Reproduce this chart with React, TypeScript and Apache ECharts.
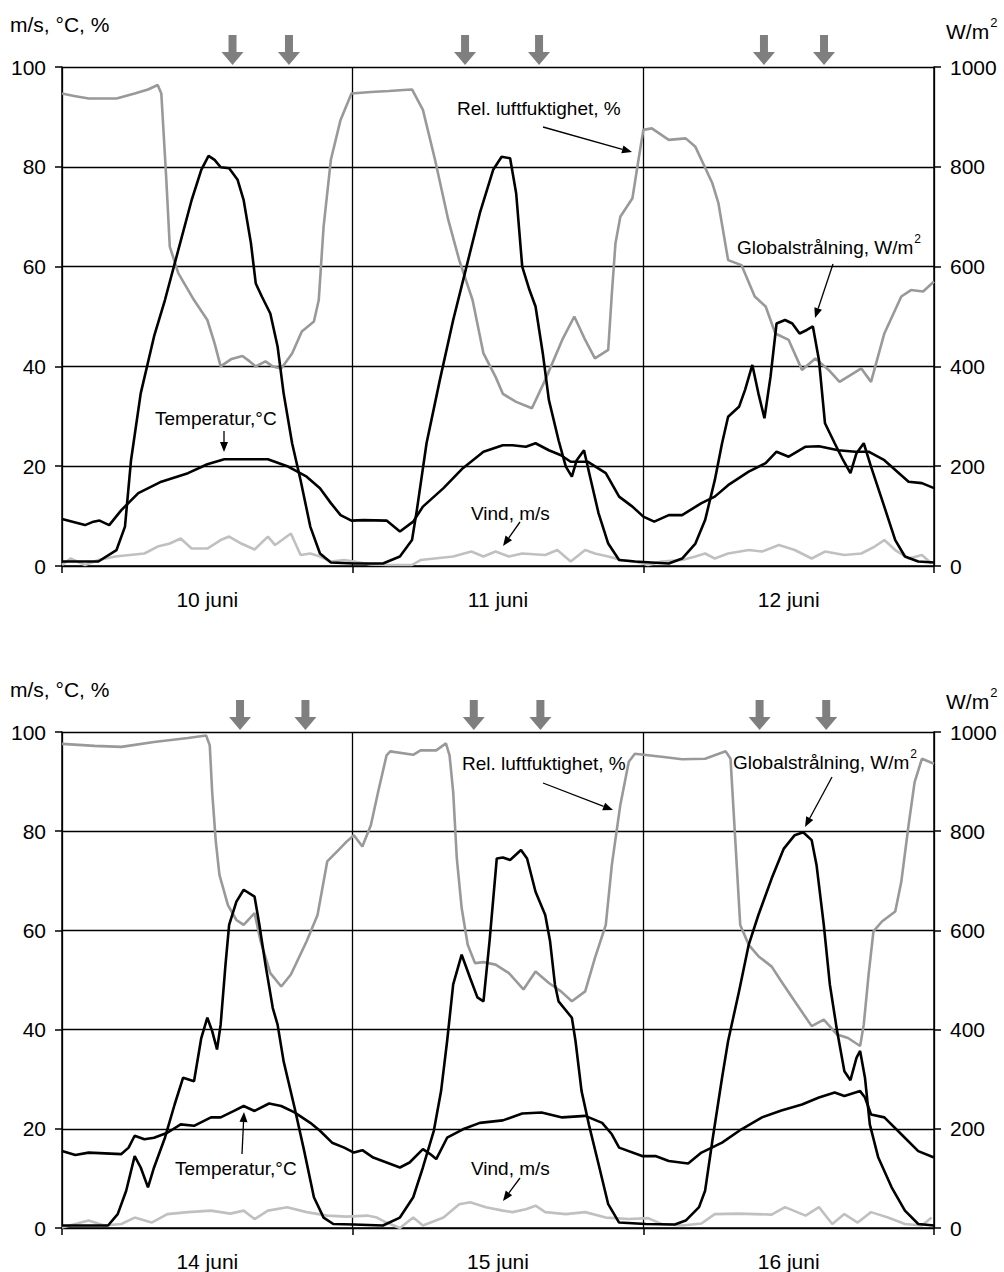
import React, { useEffect, useRef } from "react";
import * as echarts from "echarts";

const FONT = "'Liberation Sans', Arial, Helvetica, sans-serif";

const daysTop = ["10 juni", "11 juni", "12 juni"];
const daysBottom = ["14 juni", "15 juni", "16 juni"];

// arrow marker times (hours from start of panel)
const markersTop = [14.08, 18.74, 33.28, 39.39, 57.96, 62.92];
const markersBottom = [14.7, 20.1, 34.0, 39.5, 57.6, 63.1];

// ---- top panel (10-12 juni) ----
const humTop: [number, number][] = [
  [0, 94.7], [1, 94.2], [2.2, 93.7], [4.5, 93.7], [6, 94.7], [7.1, 95.5], [7.9, 96.4], [8.2, 94.7], [8.6, 78], [8.9, 64],
  [9.6, 58.7], [10.9, 53.3], [12, 49.3], [12.6, 44.6], [13.1, 40], [14, 41.5], [14.9, 42.1], [15.5, 41], [16, 40], [16.8, 41],
  [17.4, 40], [18.1, 39.6], [19, 42.6], [19.8, 47], [20.8, 49], [21.2, 53.3], [21.6, 68], [22.2, 81.4], [23, 89.4], [23.9, 94.7],
  [25.5, 95], [27, 95.2], [28.2, 95.4], [28.9, 95.5], [29.8, 91.4], [30.8, 81.4], [31.9, 69.3], [32.8, 61.3], [33.9, 53.3], [34.8, 42.6],
  [35.8, 37.9], [36.4, 34.5], [37.5, 32.9], [38.8, 31.6], [39.9, 37.3], [41.3, 45.3], [42.3, 50], [43.2, 45.3], [44, 41.6], [45.1, 43.3],
  [45.4, 54.6], [45.7, 64.7], [46.1, 70], [47.1, 73.7], [47.6, 81.4], [48, 87.4], [48.7, 87.7], [50.1, 85.4], [51.5, 85.7], [52.3, 84],
  [53.7, 76.7], [54.2, 72.7], [55, 61.3], [56.1, 60.3], [57.2, 54], [58.1, 52], [58.9, 46.6], [60, 45.3], [61.1, 39.3], [62.2, 41.6],
  [63.3, 39.3], [64.2, 36.9], [66, 39.6], [66.8, 36.9], [67.9, 46.6], [69.3, 54], [70.1, 55.3], [71.1, 55], [72, 57],
];
const radTop: [number, number][] = [
  [0, 9], [3, 9], [4.5, 32], [5.2, 79], [5.7, 212], [6.5, 346], [7.6, 460], [8.5, 533], [9.6, 633], [10.7, 733],
  [11.5, 794], [12.1, 822], [12.6, 814], [13.1, 799], [13.8, 797], [14.5, 774], [15, 733], [15.6, 647], [16, 566], [16.5, 540],
  [17.2, 506], [17.8, 440], [18.3, 346], [19, 246], [19.7, 172], [20.5, 79], [21.3, 25], [22.2, 7], [24.1, 5], [26.5, 5],
  [27.9, 19], [28.9, 52], [29.3, 112], [30.1, 246], [31.2, 373], [32.3, 493], [33.4, 600], [34.5, 707], [35.6, 794], [36.3, 820],
  [37, 817], [37.5, 747], [38, 600], [38.6, 553], [39.1, 520], [39.7, 426], [40.2, 333], [41, 252], [41.6, 199], [42.1, 179],
  [42.5, 212], [43.1, 232], [43.6, 179], [44.3, 106], [45.1, 45], [46, 12], [47.3, 9], [50.1, 5], [51.2, 15], [52.3, 45],
  [53.1, 92], [53.9, 172], [54.5, 246], [55, 299], [55.9, 319], [56.4, 353], [57, 403], [57.5, 346], [58, 296], [58.5, 379],
  [59, 486], [59.7, 493], [60.3, 486], [60.9, 466], [61.5, 473], [62, 480], [62.5, 413], [63, 286], [63.8, 246], [64.5, 212],
  [65.1, 186], [65.6, 226], [66.2, 246], [66.8, 199], [67.8, 126], [68.8, 52], [69.6, 19], [70.7, 9], [72, 7],
];
const tempTop: [number, number][] = [
  [0, 9.4], [1.9, 8.2], [2.5, 8.8], [3.1, 9.1], [3.9, 8.2], [4.9, 11.2], [6.3, 14.6], [8.2, 16.9], [10.4, 18.6], [12, 20.4],
  [13.4, 21.4], [17, 21.4], [18.6, 20], [20.2, 17.9], [21.3, 15.6], [22.2, 12.6], [23, 10.2], [23.9, 9.1], [24.9, 9.2], [26.8, 9.1],
  [27.9, 6.9], [29, 8.9], [29.8, 11.9], [31.5, 15.6], [33.1, 19.6], [34.8, 22.9], [36.4, 24.2], [37.2, 24.2], [38.3, 23.9], [39.1, 24.6],
  [40.2, 23.2], [41.2, 22.2], [42, 20.9], [43.4, 20.9], [44.9, 18.6], [46, 13.9], [47.1, 11.9], [48, 9.9], [48.9, 8.9], [50.1, 10.2],
  [51.2, 10.2], [52.8, 12.6], [53.9, 13.9], [55, 16.2], [56.7, 18.9], [58.1, 20.6], [59, 22.9], [60, 21.9], [61.4, 23.9], [62.5, 24],
  [64.1, 23.2], [65.5, 22.9], [66.6, 22.9], [67.9, 21.2], [69.9, 16.9], [71, 16.6], [72, 15.6],
];
const windTop: [number, number][] = [
  [0, 0.2], [0.7, 1.5], [1.9, 0.2], [3, 1.2], [4.4, 1.9], [6.8, 2.5], [7.9, 3.9], [8.9, 4.5], [9.8, 5.5], [10.7, 3.5],
  [12, 3.5], [13.1, 5.2], [13.8, 5.9], [14.8, 4.5], [15.9, 3.3], [17, 5.9], [17.6, 4.2], [18.9, 6.5], [19.7, 2.2], [20.5, 2.5],
  [21.3, 1.9], [22.2, 0.9], [23.3, 1.2], [24.1, 0.9], [25.5, 0.3], [27, 0.2], [28.9, 0.2], [29.6, 1.2], [32.3, 1.9], [33.8, 2.9],
  [34.8, 1.9], [35.8, 2.9], [36.9, 1.9], [38, 2.5], [39.9, 2.2], [40.9, 3.2], [42, 0.9], [43.2, 3.2], [44, 2.5], [45.1, 1.9],
  [46.2, 1.2], [47.3, 0.9], [48.4, 0.2], [49.5, 0.9], [51.2, 1.2], [52.3, 1.9], [53.1, 2.5], [53.9, 1.5], [55, 2.5], [56.7, 3.2],
  [57.8, 2.9], [59.2, 4.2], [60.5, 3.2], [61.9, 1.5], [63, 2.9], [64.6, 2.2], [66, 2.5], [67.1, 3.9], [67.9, 5.2], [68.8, 3.2],
  [69.9, 1.5], [71, 2.2], [71.8, 0.5],
];

// ---- bottom panel (14-16 juni) ----
const humBottom: [number, number][] = [
  [0, 97.6], [2.7, 97.2], [4.9, 97], [7.6, 98], [10.4, 98.8], [11.9, 99.3], [12.2, 97.3], [12.4, 87.9], [12.7, 77.9], [13, 71.2],
  [13.7, 65.1], [14.4, 62.1], [15, 61.1], [15.9, 63.5], [16.4, 57.8], [17.2, 51.4], [18.1, 48.7], [18.9, 51.1], [20.2, 57.8], [21.1, 63.1],
  [21.9, 73.9], [22.7, 75.9], [23.5, 77.9], [24.1, 79.2], [24.8, 76.9], [25.5, 81.2], [26.1, 87.9], [26.8, 95.3], [27.1, 96.1], [29, 95.4],
  [29.6, 96.3], [30.9, 96.3], [31.7, 97.7], [32, 95.3], [32.3, 87.9], [32.6, 74.5], [33, 64.5], [33.5, 57.1], [34.1, 53.4], [34.8, 53.6],
  [35.8, 53.1], [36.9, 51.4], [38.1, 48.1], [39.1, 51.7], [40.2, 49.4], [41.2, 47.7], [42.1, 45.7], [43.2, 47.7], [44, 54.4], [44.9, 61.1],
  [45.4, 73.2], [46.1, 85.3], [46.8, 94], [47.3, 95.6], [49.5, 95], [51.2, 94.5], [53.1, 94.6], [54.8, 96.1], [55.2, 94.6], [55.6, 77.9],
  [56, 61.1], [56.7, 57.1], [57.5, 54.8], [58.6, 52.7], [59.4, 49.7], [60.5, 45.7], [61.9, 40.7], [62.9, 42], [64, 39], [64.9, 38.3],
  [65.9, 36.7], [66.2, 41], [66.6, 51.1], [67, 59.8], [67.7, 61.8], [68.8, 63.8], [69.3, 69.8], [69.9, 81.2], [70.4, 89.9], [71, 94.6],
  [72, 93.6],
];
const radBottom: [number, number][] = [
  [0, 5], [3.8, 5], [4.6, 28], [5.3, 75], [6, 145], [6.5, 122], [7.1, 82], [7.6, 122], [8.5, 182], [9.3, 249],
  [10, 303], [10.9, 296], [11.5, 383], [12, 424], [12.4, 397], [12.8, 360], [13.1, 410], [13.5, 531], [13.8, 611], [14.4, 658],
  [15, 682], [15.9, 668], [16.3, 611], [16.8, 531], [17.4, 444], [17.8, 410], [18.3, 336], [19.2, 243], [20, 155], [20.8, 62],
  [21.6, 21], [22.4, 8], [24.1, 7], [26.5, 5], [27.9, 21], [29, 62], [29.8, 122], [30.7, 196], [31.3, 276], [31.8, 377],
  [32.3, 491], [33, 551], [33.7, 504], [34.3, 465], [34.8, 457], [35.3, 578], [35.9, 745], [36.4, 747], [37, 742], [37.9, 762],
  [38.4, 745], [39.1, 678], [39.9, 631], [40.3, 578], [40.7, 491], [41, 457], [42.1, 424], [42.4, 377], [42.9, 276], [43.5, 209],
  [44.3, 129], [45.1, 48], [46, 11], [48.2, 8], [50.6, 7], [51.5, 15], [52.6, 42], [53.1, 75], [53.7, 176], [54.5, 303],
  [55, 377], [55.9, 477], [56.7, 571], [57.5, 631], [58.6, 705], [59.6, 765], [60.5, 792], [61.2, 798], [61.9, 782], [62.3, 732],
  [62.9, 611], [63.4, 491], [64, 397], [64.6, 316], [65.1, 298], [65.6, 343], [65.9, 357], [66.3, 303], [66.7, 209], [67.4, 142],
  [68.5, 82], [69.6, 35], [70.7, 8], [72, 5],
];
const tempBottom: [number, number][] = [
  [0, 15.5], [1.1, 14.7], [2.2, 15.2], [4.9, 14.9], [5.5, 16.2], [6, 18.6], [6.8, 17.9], [7.6, 18.2], [8.7, 19.2], [9.8, 20.9],
  [10.9, 20.6], [12.3, 22.3], [13.1, 22.3], [14.2, 23.6], [15, 24.6], [15.9, 23.6], [17.1, 25.1], [18.1, 24.6], [19.2, 23.3], [20.5, 21.2],
  [21.3, 19.6], [22.3, 17.2], [23.3, 16.2], [24.1, 15.2], [24.8, 15.7], [25.7, 14.2], [26.8, 13.2], [27.9, 12.2], [28.7, 13.2], [29.8, 15.9],
  [30.4, 14.9], [30.9, 13.9], [31.8, 18.2], [33.1, 19.9], [34.5, 21.2], [36.4, 21.7], [38, 23.1], [39.6, 23.3], [41.3, 22.3], [43.2, 22.6],
  [44.6, 21.2], [45.4, 18.9], [46, 16.2], [47.9, 14.5], [49, 14.5], [50.1, 13.5], [51.7, 13], [52.8, 15.2], [54.5, 17.2], [56.1, 19.9],
  [57.8, 22.3], [59.4, 23.7], [61.1, 24.9], [62.5, 26.3], [63.8, 27.3], [64.6, 26.6], [65.9, 27.6], [66.3, 26.3], [66.8, 22.9], [67.9, 22.3],
  [69.3, 18.9], [70.7, 15.5], [72, 14.2],
];
const windBottom: [number, number][] = [
  [0, 0.1], [2.2, 1.5], [3.5, 0.5], [4.9, 0.8], [6, 2.1], [7.4, 1.1], [8.7, 2.8], [10.4, 3.2], [12.3, 3.5], [13.9, 2.9],
  [15, 3.5], [15.9, 1.8], [17, 3.5], [18.6, 4.2], [20.2, 3.2], [21.9, 2.5], [23.5, 2.3], [25.2, 2.5], [26, 2.1], [26.8, 1.1],
  [27.9, 0], [29, 2.1], [29.8, 0.5], [31.5, 2.1], [32.8, 4.8], [33.7, 5.2], [35, 4.2], [36.4, 3.5], [37.2, 3.2], [38.3, 3.8],
  [39.1, 4.5], [39.9, 3.2], [41.6, 2.8], [43.2, 3.2], [44.9, 2.1], [46.8, 1.8], [48.4, 2], [49.5, 0.8], [51.2, 0.5], [52.8, 0.9],
  [53.9, 2.8], [55.9, 2.9], [57.2, 2.8], [58.6, 2.7], [59.7, 4.2], [61.4, 2.5], [62.5, 4.2], [63.6, 0.8], [64.6, 2.8], [65.7, 1.1],
  [66.8, 3.2], [68.2, 2.1], [69.6, 0.8], [71, 0.5], [71.8, 2.1],
];

const HOURS = 72;
const GRID_LEFT = 62;
const GRID_WIDTH = 872;

const panels = [
  {
    top: 67, height: 499, days: daysTop, markers: markersTop,
    hum: humTop, rad: radTop, temp: tempTop, wind: windTop,
    unitY: 24, wUnitY: 31,
    rel: { x: 457, y: 108, ax1: [543, 127], ax2: [632, 152] },
    glob: { x: 737, y: 247, ax1: [833, 264], ax2: [815, 318] },
    tempL: { x: 155, y: 418, ax1: [224, 431], ax2: [224, 452] },
    vind: { x: 471, y: 513, ax1: [520, 522], ax2: [503, 546] },
  },
  {
    top: 732, height: 497, days: daysBottom, markers: markersBottom,
    hum: humBottom, rad: radBottom, temp: tempBottom, wind: windBottom,
    unitY: 689, wUnitY: 701,
    rel: { x: 462, y: 763, ax1: [543, 783], ax2: [613, 810] },
    glob: { x: 733, y: 762, ax1: [832, 777], ax2: [805, 827] },
    tempL: { x: 175, y: 1168, ax1: [242, 1154], ax2: [244, 1112] },
    vind: { x: 471, y: 1168, ax1: [520, 1178], ax2: [503, 1201] },
  },
];

function measure(text: string, font: string): number {
  const c = document.createElement("canvas").getContext("2d");
  if (!c) return text.length * 9;
  c.font = font;
  return c.measureText(text).width;
}

function textEl(text: string, x: number, y: number, size: number) {
  return {
    type: "text",
    silent: true,
    style: {
      text, x, y,
      font: `${size}px ${FONT}`,
      fill: "#000",
      textAlign: "left", textVerticalAlign: "middle",
      align: "left", verticalAlign: "middle",
    },
  };
}

function arrowEl(p1: number[], p2: number[]) {
  const dx = p2[0] - p1[0];
  const dy = p2[1] - p1[1];
  const len = Math.sqrt(dx * dx + dy * dy);
  const ux = dx / len, uy = dy / len;
  const L = 10, W = 4;
  const bx = p2[0] - ux * L, by = p2[1] - uy * L;
  return [
    {
      type: "line", silent: true,
      shape: { x1: p1[0], y1: p1[1], x2: bx, y2: by },
      style: { stroke: "#000", lineWidth: 1.3 },
    },
    {
      type: "polygon", silent: true,
      shape: { points: [[p2[0], p2[1]], [bx - uy * W, by + ux * W], [bx + uy * W, by - ux * W]] },
      style: { fill: "#000" },
    },
  ];
}

export default function App() {
  const ref = useRef<HTMLDivElement>(null);

  useEffect(() => {
    if (!ref.current) return;
    const chart = echarts.init(ref.current, null, { renderer: "svg" });

    const grids: any[] = [];
    const xAxes: any[] = [];
    const yAxes: any[] = [];
    const series: any[] = [];
    const graphics: any[] = [];

    const axisLineStyle = { color: "#000", width: 1.5 };
    const labelStyle = { color: "#000", fontSize: 21, fontFamily: FONT };
    const plain = (v: number) => String(v);

    panels.forEach((p, i) => {
      grids.push({ left: GRID_LEFT, top: p.top, width: GRID_WIDTH, height: p.height, containLabel: false });
      xAxes.push({
        gridIndex: i, type: "value", min: 0, max: HOURS, interval: 24, position: "bottom",
        axisLine: { show: true, onZero: false, lineStyle: axisLineStyle },
        axisTick: { show: true, inside: false, length: 7, lineStyle: axisLineStyle },
        axisLabel: { show: false },
        splitLine: { show: true, lineStyle: { color: "#000", width: 1.3 } },
      });
      xAxes.push({
        gridIndex: i, type: "category", data: p.days, position: "bottom", boundaryGap: true,
        axisLine: { show: false }, axisTick: { show: false },
        axisLabel: { ...labelStyle, margin: 23 },
        splitLine: { show: false },
      });
      yAxes.push({
        gridIndex: i, type: "value", min: 0, max: 100, interval: 20, position: "left",
        axisLine: { show: true, lineStyle: axisLineStyle },
        axisTick: { show: true, inside: false, length: 7, lineStyle: axisLineStyle },
        axisLabel: { ...labelStyle, margin: 16, formatter: plain },
        splitLine: { show: true, lineStyle: { color: "#000", width: 1.3 } },
      });
      yAxes.push({
        gridIndex: i, type: "value", min: 0, max: 1000, interval: 200, position: "right",
        axisLine: { show: true, lineStyle: axisLineStyle },
        axisTick: { show: true, inside: false, length: 7, lineStyle: axisLineStyle },
        axisLabel: { ...labelStyle, margin: 16, formatter: plain },
        splitLine: { show: false },
      });

      const base = { type: "line", showSymbol: false, symbol: "none", smooth: false, silent: true, xAxisIndex: 2 * i };
      series.push({ ...base, name: "Vind, m/s", yAxisIndex: 2 * i, data: p.wind, lineStyle: { color: "#c0c0c0", width: 2.6 } });
      series.push({ ...base, name: "Rel. luftfuktighet, %", yAxisIndex: 2 * i, data: p.hum, lineStyle: { color: "#999999", width: 2.6 } });
      series.push({ ...base, name: "Temperatur, °C", yAxisIndex: 2 * i, data: p.temp, lineStyle: { color: "#000", width: 2.6 } });
      series.push({ ...base, name: "Globalstrålning, W/m2", yAxisIndex: 2 * i + 1, data: p.rad, lineStyle: { color: "#000", width: 2.6 } });

      // unit labels
      graphics.push(textEl("m/s, °C, %", 10, p.unitY, 21));
      const wFont = `21px ${FONT}`;
      graphics.push(textEl("W/m", 946, p.wUnitY, 21));
      graphics.push(textEl("2", 946 + measure("W/m", wFont) + 1, p.wUnitY - 9, 13));

      // grey time markers
      p.markers.forEach((h) => {
        const cx = GRID_LEFT + (h / HOURS) * GRID_WIDTH;
        graphics.push({
          type: "rect", silent: true,
          shape: { x: cx - 4, y: p.top - 32, width: 8, height: 18 },
          style: { fill: "#7f7f7f" },
        });
        graphics.push({
          type: "polygon", silent: true,
          shape: { points: [[cx - 11, p.top - 15], [cx + 11, p.top - 15], [cx, p.top - 2]] },
          style: { fill: "#7f7f7f" },
        });
      });

      // annotations
      const aSize = 19;
      const aFont = `${aSize}px ${FONT}`;
      graphics.push(textEl("Rel. luftfuktighet, %", p.rel.x, p.rel.y, aSize));
      graphics.push(...arrowEl(p.rel.ax1, p.rel.ax2));
      graphics.push(textEl("Globalstrålning, W/m", p.glob.x, p.glob.y, aSize));
      graphics.push(textEl("2", p.glob.x + measure("Globalstrålning, W/m", aFont) + 1, p.glob.y - 8, 12));
      graphics.push(...arrowEl(p.glob.ax1, p.glob.ax2));
      graphics.push(textEl("Temperatur,°C", p.tempL.x, p.tempL.y, aSize));
      graphics.push(...arrowEl(p.tempL.ax1, p.tempL.ax2));
      graphics.push(textEl("Vind, m/s", p.vind.x, p.vind.y, aSize));
      graphics.push(...arrowEl(p.vind.ax1, p.vind.ax2));
    });

    chart.setOption({
      animation: false,
      backgroundColor: "#fff",
      textStyle: { fontFamily: FONT },
      grid: grids,
      xAxis: xAxes,
      yAxis: yAxes,
      series,
      graphic: { elements: graphics },
    });

    return () => chart.dispose();
  }, []);

  return (
    <div
      ref={ref}
      style={{ position: "absolute", left: 0, top: 0, width: 1004, height: 1272, background: "#fff" }}
    />
  );
}
